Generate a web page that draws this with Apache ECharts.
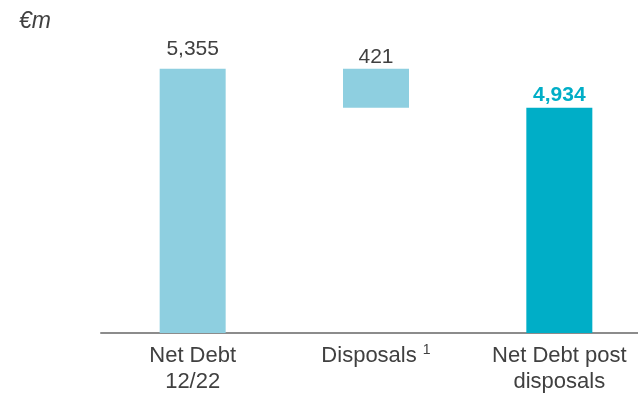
<!DOCTYPE html>
<html>
<head>
<meta charset="utf-8">
<script src="https://cdn.jsdelivr.net/npm/echarts@6/dist/echarts.min.js"></script>
<style>
  html, body { margin: 0; padding: 0; background: #fff; }
  #chart { width: 638px; height: 400px; }
</style>
</head>
<body>
<div id="chart"></div>
<script>
// Net debt bridge (€m)
const categories = ['Net Debt\n12/22', 'Disposals {sup|1}', 'Net Debt post\ndisposals'];
const openingDebt = 5355;
const disposals = 421;
const closingDebt = 4934;

// Waterfall: invisible base carries the floating disposal step
const baseValues = ['-', closingDebt, '-'];
const stepValues = [openingDebt, disposals, closingDebt];

const lightBlue = '#8ECFE0';
const teal = '#00AEC7';
const textGrey = '#404040';

const chart = echarts.init(document.getElementById('chart'), null, { renderer: 'canvas' });

chart.setOption({
  animation: false,
  title: {
    text: '€m',
    left: 14,
    top: 5,
    textStyle: { fontFamily: 'Liberation Sans', fontStyle: 'italic', fontWeight: 'normal', fontSize: 23, color: textGrey }
  },
  // the plot runs slightly past the right edge, so the axis line bleeds off the page
  grid: { left: 101, width: 550, top: 9, height: 324, outerBoundsMode: 'none', containLabel: false },
  xAxis: {
    type: 'category',
    data: categories,
    axisLine: { lineStyle: { color: '#8c8c8c', width: 2 } },
    axisTick: { show: false },
    axisLabel: {
      interval: 0,
      margin: 10,
      fontFamily: 'Liberation Sans',
      fontSize: 22,
      lineHeight: 26,
      color: textGrey,
      rich: {
        sup: { fontFamily: 'Liberation Sans', fontSize: 14, verticalAlign: 'top', color: textGrey, padding: [0, 0, 12, 0] }
      }
    }
  },
  yAxis: { type: 'value', min: 2500, max: 6000, show: false, splitLine: { show: false } },
  series: [
    {
      type: 'bar',
      stack: 'bridge',
      data: baseValues,
      barWidth: 66,
      itemStyle: { color: 'transparent' },
      silent: true
    },
    {
      type: 'bar',
      stack: 'bridge',
      barWidth: 66,
      data: stepValues.map((v, i) => ({
        value: v,
        itemStyle: { color: i === 2 ? teal : lightBlue },
        label: i === 2
          ? { color: teal, fontWeight: 'bold', distance: 2 }
          : { distance: i === 0 ? 9 : 1 }
      })),
      label: {
        show: true,
        position: 'top',
        fontFamily: 'Liberation Sans',
        fontSize: 21,
        color: textGrey,
        formatter: (p) => p.value.toLocaleString('en-US')
      }
    }
  ]
});
</script>
</body>
</html>
